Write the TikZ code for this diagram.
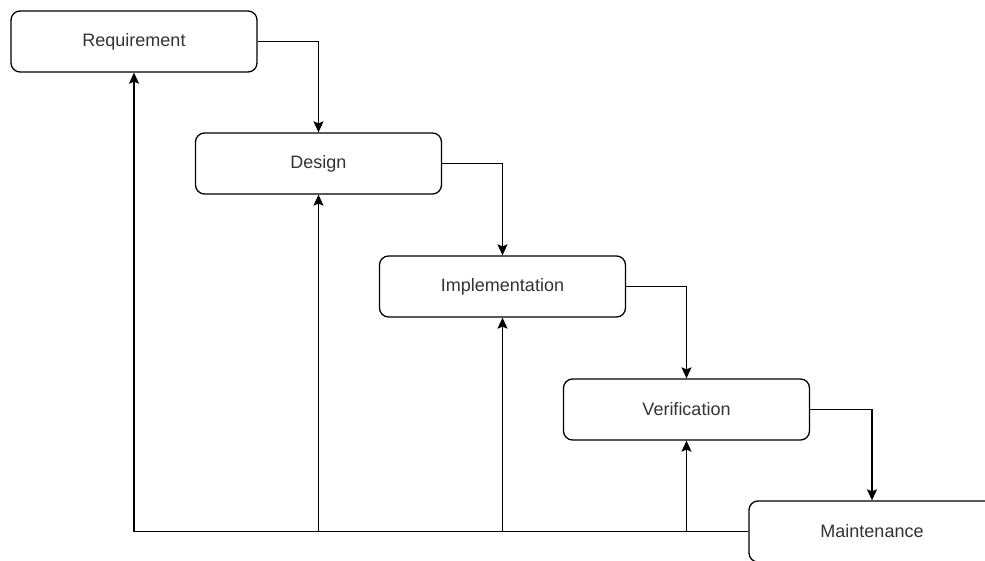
\documentclass[tikz,border=0pt]{standalone}
\usepackage{fontspec}
\setmainfont{Liberation Sans}
\usetikzlibrary{arrows.meta}
\definecolor{txt}{HTML}{333333}
\tikzset{
  phase/.style={draw=black, line width=1.3pt, rounded corners=9pt, minimum width=246pt, minimum height=61pt, inner sep=0pt, fill=white, text=txt, font=\fontsize{18pt}{20pt}\selectfont},
  arr/.style={draw=black, line width=1.3pt, -{Stealth[length=11pt,width=10pt,inset=2pt]}},
  ln/.style={draw=black, line width=1.3pt}
}
\begin{document}
\begin{tikzpicture}[x=1pt,y=1pt]
\useasboundingbox (0,0) rectangle (985,-561);
\fill[white] (0,0) rectangle (985,-561);
\node[phase] (r) at (134,-41.5) {Requirement};
\node[phase] (d) at (318.5,-163.5) {Design};
\node[phase] (i) at (502.5,-286.5) {Implementation};
\node[phase] (v) at (686.5,-409.5) {Verification};
\node[phase] (m) at (872,-531.5) {Maintenance};
\draw[arr] (r.east) -| (d.north);
\draw[arr] (d.east) -| (i.north);
\draw[arr] (i.east) -| (v.north);
\draw[arr] (v.east) -| (m.north);
\draw[arr] (m.west) -| (r.south);
\draw[arr] (d.south |- m.west) -- (d.south);
\draw[arr] (i.south |- m.west) -- (i.south);
\draw[arr] (v.south |- m.west) -- (v.south);
\end{tikzpicture}
\end{document}
